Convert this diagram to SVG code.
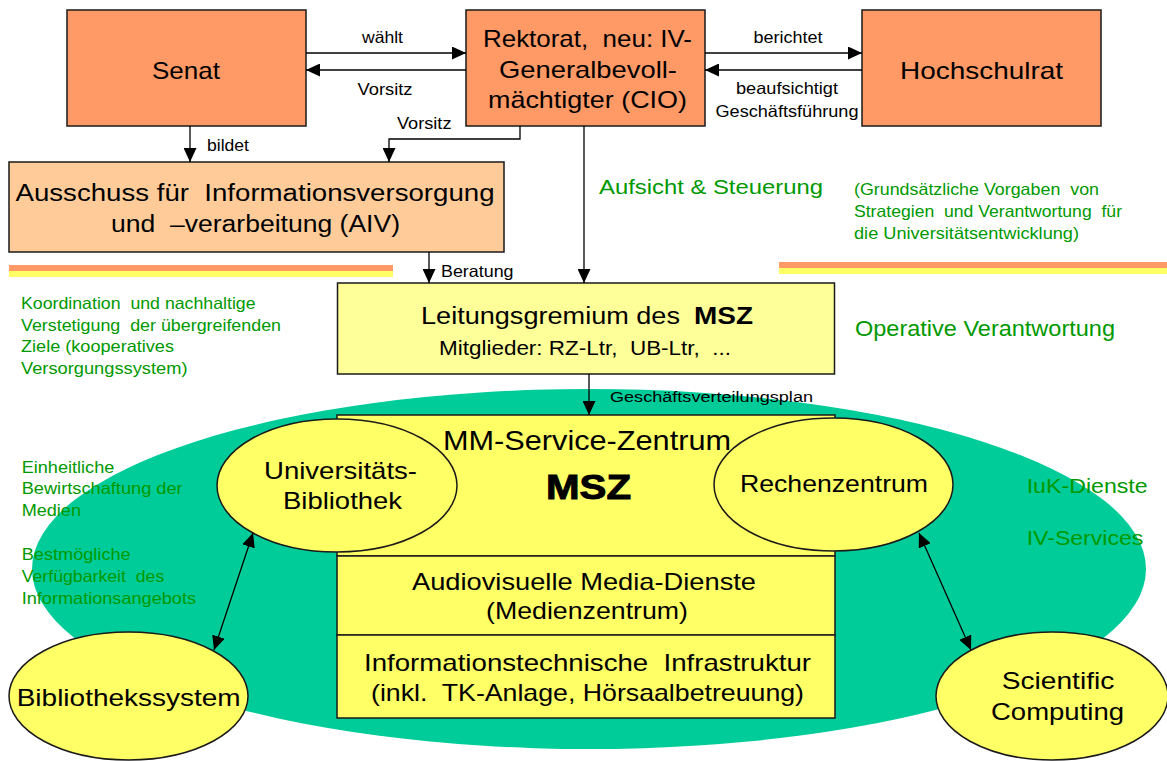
<svg xmlns="http://www.w3.org/2000/svg" width="1167" height="761" viewBox="0 0 1167 761">
<style>
text{font-family:"Liberation Sans",Arial,Helvetica,sans-serif;fill:#000;white-space:pre}
.m{text-anchor:middle}
.g{fill:#009900}
.box{stroke:#1a1a1a;stroke-width:1.5}
.or{fill:#FF9966}
.ye{fill:#FFFF66}
.conn{stroke:#000;stroke-width:1.3;fill:none}
.b{font-weight:bold}
</style>
<defs>
<marker id="ah" markerUnits="userSpaceOnUse" markerWidth="14" markerHeight="13" refX="14" refY="6.5" orient="auto-start-reverse">
<path d="M0,0 L14,6.5 L0,13 z" fill="#000"/>
</marker>
</defs>
<rect width="1167" height="761" fill="#fff"/>

<!-- background shapes -->
<g id="msz-area">
<ellipse cx="589" cy="569" rx="557" ry="180" fill="#00CC99"/>
</g>
<g id="stripes">
<rect x="9" y="265" width="384" height="6" fill="#FF9966"/>
<rect x="9" y="271" width="384" height="6" fill="#FFFF66"/>
<rect x="779" y="262" width="388" height="6" fill="#FF9966"/>
<rect x="779" y="268" width="388" height="6" fill="#FFFF66"/>
</g>

<!-- nodes -->
<g id="senat">
<rect class="box or" x="67" y="10" width="239" height="116"/>
<text class="m" x="186" y="78.5" font-size="24" textLength="68" lengthAdjust="spacingAndGlyphs">Senat</text>
</g>
<g id="rektorat">
<rect class="box or" x="466" y="10" width="239" height="116"/>
<text class="m" x="587.5" y="46.5" font-size="24" textLength="209" lengthAdjust="spacingAndGlyphs">Rektorat,  neu: IV-</text>
<text class="m" x="588" y="77.5" font-size="24" textLength="178" lengthAdjust="spacingAndGlyphs">Generalbevoll-</text>
<text class="m" x="587.5" y="107.5" font-size="24" textLength="199" lengthAdjust="spacingAndGlyphs">mächtigter (CIO)</text>
</g>
<g id="hochschulrat">
<rect class="box or" x="862" y="10" width="239" height="116"/>
<text class="m" x="981.5" y="78.5" font-size="24" textLength="163" lengthAdjust="spacingAndGlyphs">Hochschulrat</text>
</g>
<g id="aiv">
<rect class="box" fill="#FFCC99" x="9" y="162" width="495" height="90"/>
<text class="m" x="255" y="201" font-size="23.5" textLength="479" lengthAdjust="spacingAndGlyphs">Ausschuss für  Informationsversorgung</text>
<text class="m" x="255.5" y="232" font-size="23.5" textLength="289" lengthAdjust="spacingAndGlyphs">und  –verarbeitung (AIV)</text>
</g>
<g id="leitungsgremium">
<rect class="box" fill="#FFFF99" x="337.5" y="283" width="497" height="91"/>
<text x="421" y="324" font-size="23" textLength="259" lengthAdjust="spacingAndGlyphs">Leitungsgremium des</text>
<text class="b" x="694" y="324" font-size="23" textLength="59" lengthAdjust="spacingAndGlyphs">MSZ</text>
<text class="m" x="585" y="354.5" font-size="20" textLength="292" lengthAdjust="spacingAndGlyphs">Mitglieder: RZ-Ltr,  UB-Ltr,  ...</text>
</g>
<g id="msz">
<rect class="box ye" x="337" y="415" width="498" height="141"/>
<text class="m" x="587" y="450" font-size="28" textLength="288" lengthAdjust="spacingAndGlyphs">MM-Service-Zentrum</text>
<text class="m b" x="588.5" y="499" font-size="35" textLength="85" lengthAdjust="spacingAndGlyphs" stroke="#000" stroke-width="1">MSZ</text>
</g>
<g id="medienzentrum">
<rect class="box ye" x="337" y="556" width="498" height="79"/>
<text class="m" x="584" y="590" font-size="24" textLength="344" lengthAdjust="spacingAndGlyphs">Audiovisuelle Media-Dienste</text>
<text class="m" x="587" y="619" font-size="24" textLength="202" lengthAdjust="spacingAndGlyphs">(Medienzentrum)</text>
</g>
<g id="infrastruktur">
<rect class="box ye" x="337" y="635" width="498" height="83"/>
<text class="m" x="587.5" y="670.5" font-size="24" textLength="447" lengthAdjust="spacingAndGlyphs">Informationstechnische  Infrastruktur</text>
<text class="m" x="587.5" y="700.5" font-size="24" textLength="433" lengthAdjust="spacingAndGlyphs">(inkl.  TK-Anlage, Hörsaalbetreuung)</text>
</g>
<g id="ub">
<ellipse class="box ye" cx="337" cy="485.5" rx="120" ry="66.5"/>
<text class="m" x="340.5" y="478.5" font-size="24" textLength="153" lengthAdjust="spacingAndGlyphs">Universitäts-</text>
<text class="m" x="342.5" y="508.5" font-size="24" textLength="119" lengthAdjust="spacingAndGlyphs">Bibliothek</text>
</g>
<g id="rz">
<ellipse class="box ye" cx="833.5" cy="484.5" rx="119.5" ry="66.5"/>
<text class="m" x="834" y="491.5" font-size="24" textLength="188" lengthAdjust="spacingAndGlyphs">Rechenzentrum</text>
</g>
<g id="bibliothekssystem">
<ellipse class="box ye" cx="128.5" cy="696" rx="119.5" ry="64"/>
<text class="m" x="128.7" y="705.5" font-size="24" textLength="224" lengthAdjust="spacingAndGlyphs">Bibliothekssystem</text>
</g>
<g id="scientific">
<ellipse class="box ye" cx="1052" cy="696" rx="116" ry="64"/>
<text class="m" x="1058" y="688.5" font-size="24" textLength="112.6" lengthAdjust="spacingAndGlyphs">Scientific</text>
<text class="m" x="1057.5" y="720" font-size="24" textLength="133" lengthAdjust="spacingAndGlyphs">Computing</text>
</g>

<!-- connectors -->
<g id="connectors">
<line class="conn" x1="306" y1="53" x2="466" y2="53" marker-end="url(#ah)"/>
<line class="conn" x1="466" y1="70" x2="306" y2="70" marker-end="url(#ah)"/>
<line class="conn" x1="705" y1="53" x2="862" y2="53" marker-end="url(#ah)"/>
<line class="conn" x1="862" y1="70" x2="705" y2="70" marker-end="url(#ah)"/>
<line class="conn" x1="190" y1="126" x2="190" y2="162" marker-end="url(#ah)"/>
<path class="conn" d="M520,126 V139 H389 V162" marker-end="url(#ah)"/>
<line class="conn" x1="429" y1="252" x2="429" y2="283" marker-end="url(#ah)"/>
<line class="conn" x1="584" y1="126" x2="584" y2="283" marker-end="url(#ah)"/>
<line class="conn" x1="589" y1="374" x2="589" y2="415" marker-end="url(#ah)"/>
<line class="conn" x1="253" y1="533" x2="214" y2="650" marker-start="url(#ah)" marker-end="url(#ah)"/>
<line class="conn" x1="919" y1="533" x2="971" y2="650" marker-start="url(#ah)" marker-end="url(#ah)"/>
<text class="m" x="382.5" y="43" font-size="16.5" textLength="41" lengthAdjust="spacingAndGlyphs">wählt</text>
<text class="m" x="385" y="95" font-size="16.5" textLength="55" lengthAdjust="spacingAndGlyphs">Vorsitz</text>
<text class="m" x="788" y="42.5" font-size="16.5" textLength="69" lengthAdjust="spacingAndGlyphs">berichtet</text>
<text class="m" x="787" y="94" font-size="16.5" textLength="102" lengthAdjust="spacingAndGlyphs">beaufsichtigt</text>
<text class="m" x="787" y="117" font-size="16.5" textLength="143" lengthAdjust="spacingAndGlyphs">Geschäftsführung</text>
<text x="207" y="150.5" font-size="16.5" textLength="42" lengthAdjust="spacingAndGlyphs">bildet</text>
<text x="397" y="128.5" font-size="16.5" textLength="54.5" lengthAdjust="spacingAndGlyphs">Vorsitz</text>
<text x="441" y="276.5" font-size="16.5" textLength="72.5" lengthAdjust="spacingAndGlyphs">Beratung</text>
<text x="610" y="401.5" font-size="15.5" textLength="203" lengthAdjust="spacingAndGlyphs">Geschäftsverteilungsplan</text>
</g>

<!-- annotations -->
<g id="annotations">
<text class="g" x="599" y="194" font-size="21" textLength="224" lengthAdjust="spacingAndGlyphs">Aufsicht &amp; Steuerung</text>
<text class="g" x="854" y="195" font-size="16.5" textLength="245" lengthAdjust="spacingAndGlyphs">(Grundsätzliche Vorgaben  von</text>
<text class="g" x="854" y="217" font-size="16.5" textLength="268" lengthAdjust="spacingAndGlyphs">Strategien  und Verantwortung  für</text>
<text class="g" x="854" y="239" font-size="16.5" textLength="225" lengthAdjust="spacingAndGlyphs">die Universitätsentwicklung)</text>
<text class="g" x="855" y="336" font-size="21.5" textLength="260" lengthAdjust="spacingAndGlyphs">Operative Verantwortung</text>
<text class="g" x="21" y="308.5" font-size="16.5" textLength="234.6" lengthAdjust="spacingAndGlyphs">Koordination  und nachhaltige</text>
<text class="g" x="21" y="330.5" font-size="16.5" textLength="260" lengthAdjust="spacingAndGlyphs">Verstetigung  der übergreifenden</text>
<text class="g" x="21" y="352" font-size="16.5" textLength="153" lengthAdjust="spacingAndGlyphs">Ziele (kooperatives</text>
<text class="g" x="21" y="373.5" font-size="16.5" textLength="166.5" lengthAdjust="spacingAndGlyphs">Versorgungssystem)</text>
<text class="g" x="21.7" y="472.5" font-size="16.5" textLength="92.6" lengthAdjust="spacingAndGlyphs">Einheitliche</text>
<text class="g" x="21.7" y="494" font-size="16.5" textLength="161" lengthAdjust="spacingAndGlyphs">Bewirtschaftung der</text>
<text class="g" x="21.7" y="515.5" font-size="16.5" textLength="59.3" lengthAdjust="spacingAndGlyphs">Medien</text>
<text class="g" x="21.7" y="560" font-size="16.5" textLength="109" lengthAdjust="spacingAndGlyphs">Bestmögliche</text>
<text class="g" x="21.7" y="582" font-size="16.5" textLength="142.6" lengthAdjust="spacingAndGlyphs">Verfügbarkeit  des</text>
<text class="g" x="21.7" y="604" font-size="16.5" textLength="174.3" lengthAdjust="spacingAndGlyphs">Informationsangebots</text>
<text class="g" x="1026.7" y="492.5" font-size="21" textLength="121" lengthAdjust="spacingAndGlyphs">IuK-Dienste</text>
<text class="g" x="1026.7" y="545" font-size="21" textLength="116.7" lengthAdjust="spacingAndGlyphs">IV-Services</text>
</g>
</svg>
